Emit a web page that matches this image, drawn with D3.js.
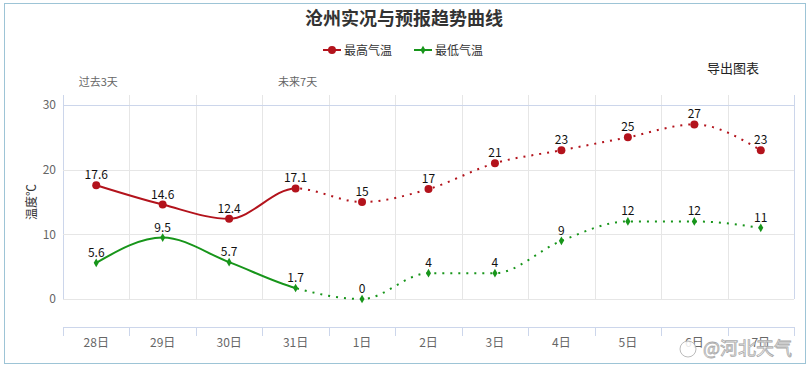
<!DOCTYPE html>
<html>
<head>
<meta charset="utf-8">
<script src="https://cdn.jsdelivr.net/npm/d3@7"></script>
<style>
  body { margin: 0; background: #fff; }
  svg text { font-family: "Noto Sans CJK SC", "Noto Sans", sans-serif; }
</style>
</head>
<body>
<div id="chart"></div>
<script>
// data
var days = ["28日", "29日", "30日", "31日", "1日", "2日", "3日", "4日", "5日", "6日", "7日"];
var highTemp = [17.6, 14.6, 12.4, 17.1, 15, 17, 21, 23, 25, 27, 23];
var lowTemp = [5.6, 9.5, 5.7, 1.7, 0, 4, 4, 9, 12, 12, 11];
var yTicks = [0, 10, 20, 30];
var splitIndex = 3; // observed up to 31日, forecast after

var W = 809, H = 369;
var plot = { left: 63, right: 794, top: 105, zero: 299, axisY: 327 };
var redColor = "#b3131c", greenColor = "#17951a";

var svg = d3.select("#chart").append("svg")
    .attr("width", W)
    .attr("height", H);

// outer frame
svg.append("rect")
    .attr("x", 4.5).attr("y", 3.5)
    .attr("width", 801).attr("height", 360)
    .attr("fill", "none")
    .attr("stroke", "#9dc4d6");

var x = d3.scaleBand().domain(days).range([plot.left, plot.right]);
var y = d3.scaleLinear().domain([0, 30]).range([plot.zero, plot.top]);
function cx(d, i) { return x(days[i]) + x.bandwidth() / 2; }

// title
svg.append("text")
    .attr("x", 404).attr("y", 25)
    .attr("text-anchor", "middle")
    .attr("font-size", 18).attr("font-weight", "bold")
    .attr("fill", "#333")
    .text("沧州实况与预报趋势曲线");

// legend
var legend = [
    { name: "最高气温", color: redColor, x: 323, shape: "circle" },
    { name: "最低气温", color: greenColor, x: 414, shape: "diamond" }
];
var lg = svg.selectAll(".legend").data(legend).enter().append("g")
    .attr("class", "legend")
    .attr("transform", function (d) { return "translate(" + d.x + ",50)"; });
lg.append("line")
    .attr("x1", 0).attr("x2", 18)
    .attr("stroke", function (d) { return d.color; })
    .attr("stroke-width", 2);
lg.append("path")
    .attr("transform", "translate(9,0)")
    .attr("d", function (d) {
        return d.shape == "circle" ? d3.symbol(d3.symbolCircle, 50)() : d3.symbol(d3.symbolDiamond, 22)();
    })
    .attr("fill", function (d) { return d.color; });
lg.append("text")
    .attr("x", 21).attr("y", 4.5)
    .attr("font-size", 12).attr("fill", "#333")
    .text(function (d) { return d.name; });

// export button text
svg.append("text")
    .attr("x", 707).attr("y", 73)
    .attr("font-size", 13).attr("fill", "#222")
    .text("导出图表");

// top labels
svg.append("text")
    .attr("x", cx(null, 0) + 2).attr("y", 86)
    .attr("text-anchor", "middle")
    .attr("font-size", 11).attr("fill", "#666")
    .text("过去3天");
svg.append("text")
    .attr("x", cx(null, splitIndex) + 2).attr("y", 86)
    .attr("text-anchor", "middle")
    .attr("font-size", 11).attr("fill", "#666")
    .text("未来7天");

// grid
var bounds = days.map(function (d) { return x(d); }).concat([plot.right]);
svg.selectAll(".vgrid").data(bounds).enter().append("line")
    .attr("class", "vgrid")
    .attr("x1", function (d) { return Math.round(d) + 0.5; })
    .attr("x2", function (d) { return Math.round(d) + 0.5; })
    .attr("y1", plot.top - 10).attr("y2", plot.zero)
    .attr("stroke", function (d, i) { return (i == 0 || i == bounds.length - 1) ? "#ccd6eb" : "#e6e6e6"; });

svg.selectAll(".hgrid").data(yTicks).enter().append("line")
    .attr("class", "hgrid")
    .attr("x1", plot.left).attr("x2", plot.right)
    .attr("y1", function (d) { return Math.round(y(d)) + 0.5; })
    .attr("y2", function (d) { return Math.round(y(d)) + 0.5; })
    .attr("stroke", function (d) { return d == 30 ? "#ccd6eb" : "#e6e6e6"; });

// y axis labels
var yAxis = svg.append("g")
    .attr("transform", "translate(" + (plot.left - 4) + ",0)")
    .call(d3.axisLeft(y).tickValues(yTicks).tickSize(0));
yAxis.select(".domain").remove();
yAxis.selectAll("text")
    .attr("font-size", 12).attr("fill", "#666")
    .style("font-family", "\"Noto Sans CJK SC\", sans-serif");

svg.append("text")
    .attr("transform", "translate(36,202) rotate(-90)")
    .attr("text-anchor", "middle")
    .attr("font-size", 12).attr("fill", "#333")
    .text("温度℃");

// bottom x axis
svg.append("line")
    .attr("x1", plot.left).attr("x2", plot.right)
    .attr("y1", plot.axisY + 0.5).attr("y2", plot.axisY + 0.5)
    .attr("stroke", "#ccd6eb");
svg.selectAll(".xtick").data(bounds).enter().append("line")
    .attr("class", "xtick")
    .attr("x1", function (d) { return Math.round(d) + 0.5; })
    .attr("x2", function (d) { return Math.round(d) + 0.5; })
    .attr("y1", plot.axisY).attr("y2", plot.axisY + 9)
    .attr("stroke", "#ccd6eb");
svg.selectAll(".xlabel").data(days).enter().append("text")
    .attr("class", "xlabel")
    .attr("x", function (d, i) { return cx(d, i); })
    .attr("y", 347)
    .attr("text-anchor", "middle")
    .attr("font-size", 12).attr("fill", "#666")
    .text(function (d) { return d; });

// clip regions: solid for observed part, dotted for forecast
var splitX = cx(null, splitIndex);
var defs = svg.append("defs");
defs.append("clipPath").attr("id", "clipPast")
    .append("rect").attr("x", 0).attr("y", 0).attr("width", splitX).attr("height", H);
defs.append("clipPath").attr("id", "clipFuture")
    .append("rect").attr("x", splitX).attr("y", 0).attr("width", W - splitX).attr("height", H);

var line = d3.line()
    .x(function (d, i) { return cx(d, i); })
    .y(function (d) { return y(d); })
    .curve(d3.curveMonotoneX);

var series = [
    { values: highTemp, color: redColor, shape: "circle" },
    { values: lowTemp, color: greenColor, shape: "diamond" }
];

series.forEach(function (s) {
    svg.append("path")
        .attr("d", line(s.values))
        .attr("fill", "none")
        .attr("stroke", s.color)
        .attr("stroke-width", 2)
        .attr("clip-path", "url(#clipPast)");
    svg.append("path")
        .attr("d", line(s.values))
        .attr("fill", "none")
        .attr("stroke", s.color)
        .attr("stroke-width", 2)
        .attr("stroke-dasharray", "2,6")
        .attr("clip-path", "url(#clipFuture)");

    svg.selectAll(null).data(s.values).enter().append("path")
        .attr("transform", function (d, i) { return "translate(" + cx(d, i) + "," + y(d) + ")"; })
        .attr("d", s.shape == "circle" ? d3.symbol(d3.symbolCircle, 50)() : d3.symbol(d3.symbolDiamond, 22)())
        .attr("fill", s.color);

    svg.selectAll(null).data(s.values).enter().append("text")
        .attr("x", function (d, i) { return cx(d, i); })
        .attr("y", function (d) { return y(d) - 6; })
        .attr("text-anchor", "middle")
        .attr("font-size", 12).attr("fill", "#111")
        .text(function (d) { return d; });
});

// watermark
svg.append("text")
    .attr("x", 703).attr("y", 355)
    .attr("font-size", 18)
    .attr("fill", "#fff").attr("fill-opacity", 0.85)
    .attr("stroke", "#aaa").attr("stroke-width", 0.8)
    .text("@河北天气");
svg.append("circle")
    .attr("cx", 688).attr("cy", 349).attr("r", 8)
    .attr("fill", "#fff").attr("fill-opacity", 0.85)
    .attr("stroke", "#aaa").attr("stroke-width", 0.8);
</script>
</body>
</html>
